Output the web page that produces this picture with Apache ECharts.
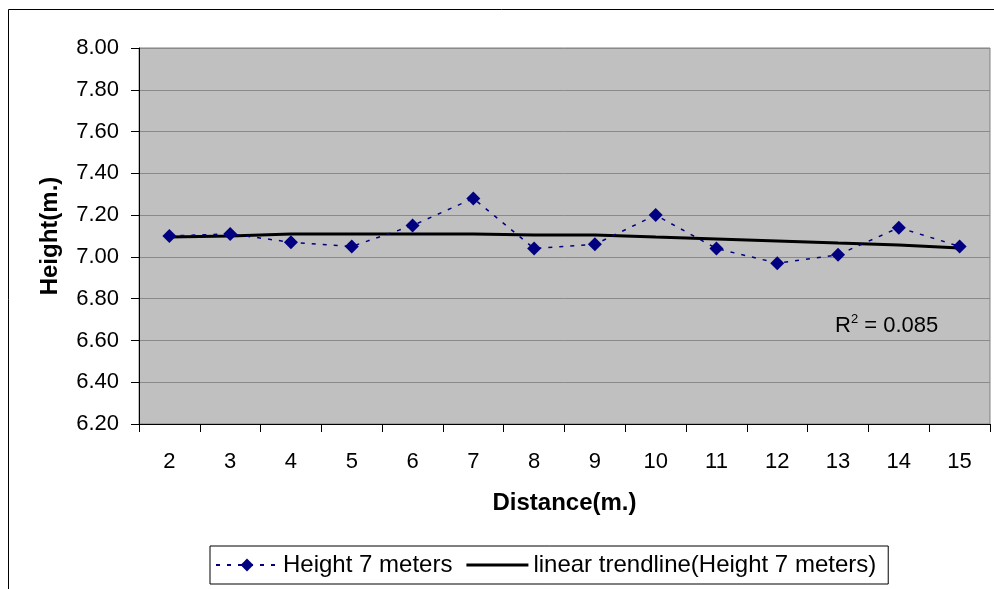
<!DOCTYPE html>
<html>
<head>
<meta charset="utf-8">
<script src="https://cdn.jsdelivr.net/npm/echarts@6/dist/echarts.min.js"></script>
<style>
  html, body { margin: 0; padding: 0; background: #fff; }
  #chart { width: 994px; height: 589px; }
</style>
</head>
<body>
<div id="chart"></div>
<script>
/* 数据 */
const distances = ['2', '3', '4', '5', '6', '7', '8', '9', '10', '11', '12', '13', '14', '15'];
const heights = [7.10, 7.11, 7.07, 7.05, 7.15, 7.28, 7.04, 7.06, 7.20, 7.04, 6.97, 7.01, 7.14, 7.05];
const trendline = [7.095, 7.10, 7.11, 7.11, 7.11, 7.11, 7.105, 7.105, 7.095, 7.086, 7.076, 7.066, 7.057, 7.042];
const yTicks = { min: 6.2, max: 8.0, step: 0.2 };

const font = 'Liberation Sans, Arial, sans-serif';
const fs = 22;   // 刻度文字
const fsName = 24; // 轴名、图例
const chart = echarts.init(document.getElementById('chart'));

chart.setOption({
    backgroundColor: '#fff',
    animation: false,
    textStyle: { fontFamily: font, color: '#000' },
    graphic: [
        {
            type: 'rect', z: -1, silent: true,
            shape: { x: 8.5, y: 9.5, width: 1000, height: 620 },
            style: { fill: 'none', stroke: '#000', lineWidth: 1 }
        },
        {
            type: 'text', left: 835, top: 313,
            style: {
                text: '{r|R}{s|2}{r| = 0.085}',
                rich: {
                    r: { fontSize: fs, fontFamily: font, fill: '#000', verticalAlign: 'bottom' },
                    s: { fontSize: 13, fontFamily: font, fill: '#000', padding: [0, 0, 11, 0], verticalAlign: 'bottom' }
                }
            }
        }
    ],
    grid: {
        left: 139, right: 4, top: 48, height: 376,
        show: true, backgroundColor: '#c0c0c0', borderColor: '#808080', borderWidth: 1
    },
    legend: {
        left: 210, top: 546,
        itemWidth: 62, itemHeight: 16, itemGap: 14,
        padding: [7, 12, 7, 5],
        borderColor: '#000', borderWidth: 1,
        textStyle: { fontSize: fsName, fontFamily: font, color: '#000' },
        data: [
            { name: 'Height 7 meters' },
            { name: 'linear trendline(Height 7 meters)', icon: 'path://M0,0H60V3H0Z' }
        ]
    },
    xAxis: {
        type: 'category', data: distances,
        boundaryGap: true,
        name: 'Distance(m.)', nameLocation: 'middle', nameGap: 67,
        nameTextStyle: { fontSize: fsName, fontWeight: 'bold', fontFamily: font, color: '#000' },
        axisLine: { lineStyle: { color: '#000', width: 1 } },
        axisTick: { show: true, inside: false, length: 8, lineStyle: { color: '#000' } },
        axisLabel: { fontSize: fs, color: '#000', margin: 27, fontFamily: font }
    },
    yAxis: {
        type: 'value', min: yTicks.min, max: yTicks.max, interval: yTicks.step,
        name: 'Height(m.)', nameLocation: 'middle', nameGap: 77,
        nameTextStyle: { fontSize: fsName, fontWeight: 'bold', fontFamily: font, color: '#000' },
        axisLine: { show: true, lineStyle: { color: '#000', width: 1 } },
        axisTick: { show: true, inside: false, length: 8, lineStyle: { color: '#000' } },
        axisLabel: { fontSize: fs, color: '#000', margin: 20, fontFamily: font, formatter: v => v.toFixed(2) },
        splitLine: { show: true, lineStyle: { color: '#8a8a8a', width: 1 } }
    },
    series: [
        {
            name: 'Height 7 meters', type: 'line', data: heights,
            symbol: 'diamond', symbolSize: 14,
            itemStyle: { color: '#000080' },
            lineStyle: { color: '#000080', width: 1.5, type: [4, 7] },
            z: 3
        },
        {
            name: 'linear trendline(Height 7 meters)', type: 'line', data: trendline,
            symbol: 'none', showSymbol: false,
            itemStyle: { color: '#000' },
            lineStyle: { color: '#000', width: 3 },
            z: 2
        }
    ]
});
</script>
</body>
</html>
